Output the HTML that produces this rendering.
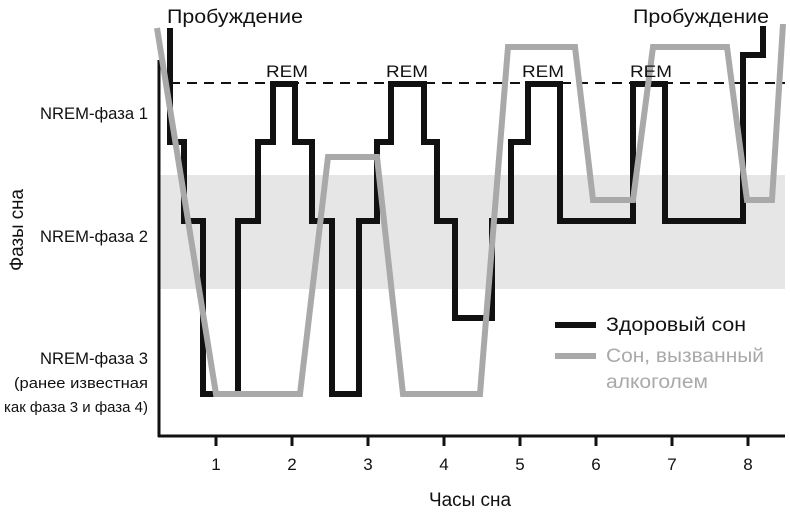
<!DOCTYPE html>
<html><head><meta charset="utf-8"><style>
html,body{margin:0;padding:0;background:#fff;}
svg{display:block;font-family:"Liberation Sans",sans-serif;}
</style></head><body>
<svg width="790" height="516" viewBox="0 0 790 516">
<rect x="160" y="175" width="625" height="114" fill="#e6e6e6"/>
<line x1="170" y1="83" x2="785" y2="83" stroke="#111" stroke-width="2" stroke-dasharray="10,7"/>
<line x1="159" y1="60" x2="159" y2="437" stroke="#111" stroke-width="3"/>
<line x1="158" y1="436" x2="785" y2="436" stroke="#111" stroke-width="3"/>
<g stroke="#111" stroke-width="3">
<line x1="216" y1="436" x2="216" y2="446"/><line x1="292" y1="436" x2="292" y2="446"/>
<line x1="368" y1="436" x2="368" y2="446"/><line x1="444" y1="436" x2="444" y2="446"/>
<line x1="520" y1="436" x2="520" y2="446"/><line x1="596" y1="436" x2="596" y2="446"/>
<line x1="672" y1="436" x2="672" y2="446"/><line x1="748" y1="436" x2="748" y2="446"/>
</g>
<polyline fill="none" stroke="#111" stroke-width="6" stroke-linejoin="miter" points="170,28 170,142 184,142 184,221 203,221 203,394 238,394 238,221 258,221 258,142 273,142 273,84 295,84 295,142 312,142 312,221 332,221 332,394 359,394 359,221 377,221 377,142 391,142 391,84 424,84 424,142 437,142 437,221 455,221 455,318 492,318 492,221 511,221 511,142 528,142 528,84 560,84 560,221 633,221 633,84 665,84 665,221 743,221 743,55 763,55 763,26"/>
<polyline fill="none" stroke="#a9a9a9" stroke-width="6" stroke-linejoin="miter" points="157,28 216,394 300,394 328,157 377,157 403,394 480,394 508,47 575,47 593,200 633,200 653,47 727,47 747,200 772,200 783,24"/>
<line x1="555" y1="325" x2="596" y2="325" stroke="#111" stroke-width="6"/>
<line x1="555" y1="356" x2="596" y2="356" stroke="#a9a9a9" stroke-width="6"/>
<g font-size="19" fill="#111">
<text x="606" y="331" textLength="140" lengthAdjust="spacingAndGlyphs">Здоровый сон</text>
<text x="606" y="362" fill="#a9a9a9" textLength="158" lengthAdjust="spacingAndGlyphs">Сон, вызванный</text>
<text x="606" y="388" fill="#a9a9a9" textLength="102" lengthAdjust="spacingAndGlyphs">алкоголем</text>
<text x="167" y="23" textLength="136" lengthAdjust="spacingAndGlyphs">Пробуждение</text>
<text x="633" y="23" textLength="136" lengthAdjust="spacingAndGlyphs">Пробуждение</text>
</g>
<g font-size="17" fill="#111" text-anchor="middle">
<text x="287" y="77" textLength="42" lengthAdjust="spacingAndGlyphs">REM</text>
<text x="407" y="77" textLength="42" lengthAdjust="spacingAndGlyphs">REM</text>
<text x="543" y="77" textLength="42" lengthAdjust="spacingAndGlyphs">REM</text>
<text x="651" y="77" textLength="42" lengthAdjust="spacingAndGlyphs">REM</text>
<text x="216" y="470">1</text><text x="292" y="470">2</text><text x="368" y="470">3</text><text x="444" y="470">4</text>
<text x="520" y="470">5</text><text x="596" y="470">6</text><text x="672" y="470">7</text><text x="748" y="470">8</text>
<text x="470" y="506" font-size="19" textLength="82" lengthAdjust="spacingAndGlyphs">Часы сна</text>
<text transform="translate(23,230) rotate(-90)" font-size="19" textLength="82" lengthAdjust="spacingAndGlyphs">Фазы сна</text>
</g>
<g font-size="17" fill="#111" text-anchor="end">
<text x="148" y="119" textLength="108" lengthAdjust="spacingAndGlyphs">NREM-фаза 1</text>
<text x="148" y="242" textLength="108" lengthAdjust="spacingAndGlyphs">NREM-фаза 2</text>
<text x="148" y="364" textLength="108" lengthAdjust="spacingAndGlyphs">NREM-фаза 3</text>
<text x="148" y="388" font-size="15" textLength="134" lengthAdjust="spacingAndGlyphs">(ранее известная</text>
<text x="148" y="412" font-size="15" textLength="144" lengthAdjust="spacingAndGlyphs">как фаза 3 и фаза 4)</text>
</g>
</svg>
</body></html>
